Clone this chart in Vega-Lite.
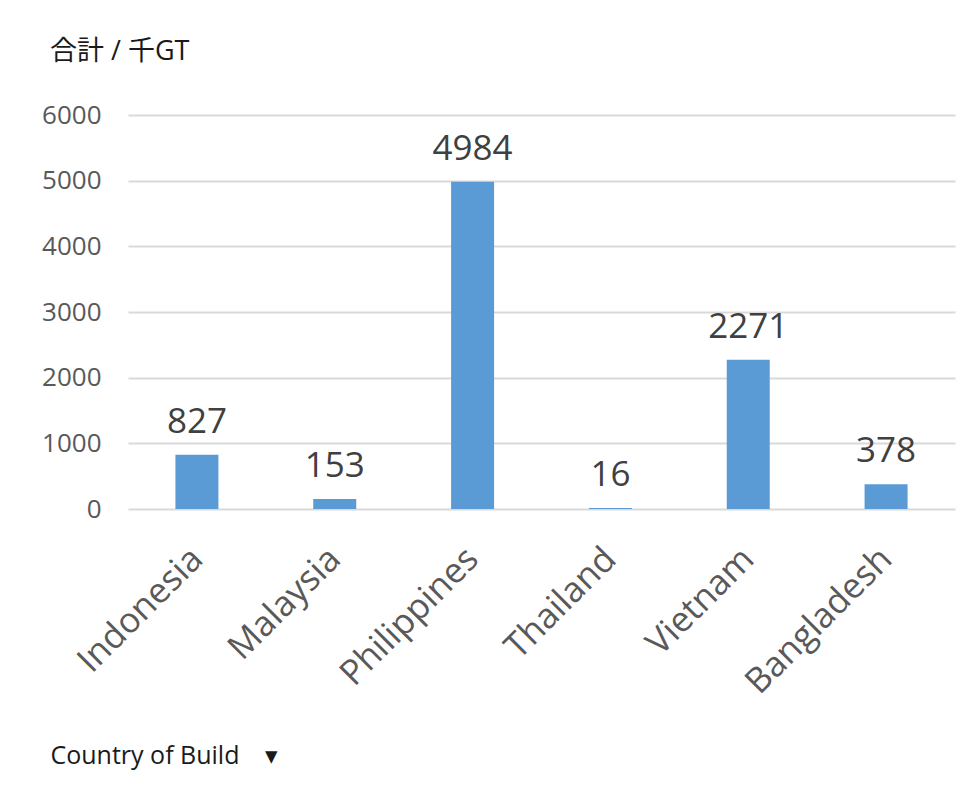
{
  "$schema": "https://vega.github.io/schema/vega-lite/v6.json",
  "width": 827,
  "height": 394,
  "autosize": {"type": "none"},
  "padding": {"left": 128, "top": 115, "right": 25, "bottom": 287},
  "background": "white",
  "title": {
    "text": "合計 / 千GT",
    "anchor": "start",
    "frame": "group",
    "dx": -78,
    "offset": 36,
    "font": "Open Sans, Noto Sans CJK JP",
    "fontSize": 27,
    "fontWeight": "normal",
    "color": "#1a1a1a"
  },
  "data": {
    "values": [
      {"country": "Indonesia", "value": 827},
      {"country": "Malaysia", "value": 153},
      {"country": "Philippines", "value": 4984},
      {"country": "Thailand", "value": 16},
      {"country": "Vietnam", "value": 2271},
      {"country": "Bangladesh", "value": 378}
    ]
  },
  "encoding": {
    "x": {
      "field": "country",
      "type": "nominal",
      "sort": null,
      "scale": {"paddingInner": 0.688, "paddingOuter": 0.344},
      "axis": {
        "title": "Country of Build\u00a0\u00a0\u00a0\u00a0▾",
        "titleAnchor": "start",
        "titleAlign": "left",
        "titleX": -78,
        "titleY": 246,
        "titleBaseline": "middle",
        "titleFont": "Open Sans",
        "titleFontSize": 25,
        "titleFontWeight": "normal",
        "titleColor": "#1a1a1a",
        "labelAngle": -45,
        "labelAlign": "right",
        "labelBaseline": "middle",
        "labelPadding": 44,
        "labelLimit": 0,
        "labelFont": "Open Sans",
        "labelFontSize": 35,
        "labelColor": "#595959",
        "ticks": false,
        "tickSize": 0,
        "domain": false,
        "grid": false
      }
    },
    "y": {
      "field": "value",
      "type": "quantitative",
      "scale": {"domain": [0, 6000], "nice": false},
      "axis": {
        "title": null,
        "values": [0, 1000, 2000, 3000, 4000, 5000, 6000],
        "format": "d",
        "ticks": false,
        "tickSize": 0,
        "domain": false,
        "labelPadding": 27,
        "labelFont": "Open Sans",
        "labelFontSize": 26,
        "labelColor": "#595959",
        "gridColor": "#D9D9D9",
        "gridWidth": 2
      }
    }
  },
  "layer": [
    {"mark": {"type": "bar", "color": "#5B9BD5"}},
    {
      "mark": {
        "type": "text",
        "baseline": "alphabetic",
        "dy": -22,
        "font": "Open Sans",
        "fontSize": 35,
        "color": "#404040"
      },
      "encoding": {"text": {"field": "value", "type": "quantitative"}}
    }
  ],
  "config": {"view": {"stroke": null}}
}
